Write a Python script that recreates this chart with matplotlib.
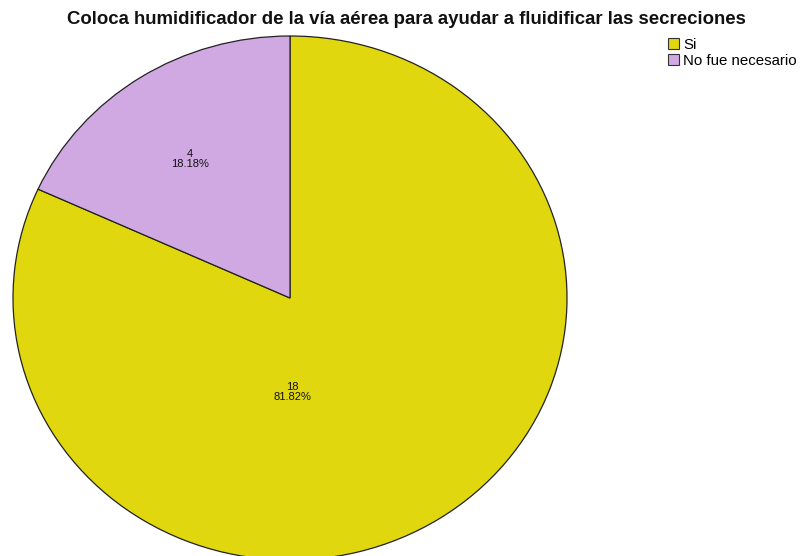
import matplotlib
matplotlib.use("Agg")
import matplotlib.pyplot as plt
from matplotlib.patches import Patch

categories = ["Si", "No fue necesario"]
counts = [18, 4]
percent_labels = ["81.82%", "18.18%"]
colors = ["#e1d70f", "#d0a9e3"]
title = "Coloca humidificador de la vía aérea para ayudar a fluidificar las secreciones"

plt.rcParams["font.family"] = ["Liberation Sans", "DejaVu Sans"]

W, H = 806, 556
fig = plt.figure(figsize=(W / 100, H / 100), dpi=100)
# pie ellipse: center (290,298) px, rx 277, ry 262
cx, cy, rx, ry = 290, 298, 277, 262
ax = fig.add_axes([(cx - rx) / W, (H - cy - ry) / H, 2 * rx / W, 2 * ry / H])
wedges, _ = ax.pie(counts, colors=colors, startangle=90, counterclock=False,
                   wedgeprops=dict(edgecolor="#222222", linewidth=0.9),
                   radius=1)
ax.set_aspect("auto")
ax.set_xlim(-1, 1)
ax.set_ylim(-1, 1)
ax.axis("off")

label_pos = [(0.01, -0.36), (-0.36, 0.53)]
for (x, y), c, p in zip(label_pos, counts, percent_labels):
    ax.text(x, y, f"{c}\n{p}", ha="center", va="center", fontsize=8,
            linespacing=1.0, color="#111111")

fig.text(0.504, 1 - 19 / H, title, ha="center", va="center",
         fontsize=13.45, fontweight="bold", color="#111111")

handles = [Patch(facecolor=col, edgecolor="#333333", linewidth=0.8) for col in colors]
leg = fig.legend(handles, categories, loc="upper left",
                 bbox_to_anchor=(668 / W, 1 - 38 / H), frameon=False,
                 fontsize=10.8, handlelength=0.75, handleheight=0.75,
                 handletextpad=0.25, labelspacing=0.12, borderaxespad=0,
                 borderpad=0)

fig.savefig("out.png", dpi=100)
